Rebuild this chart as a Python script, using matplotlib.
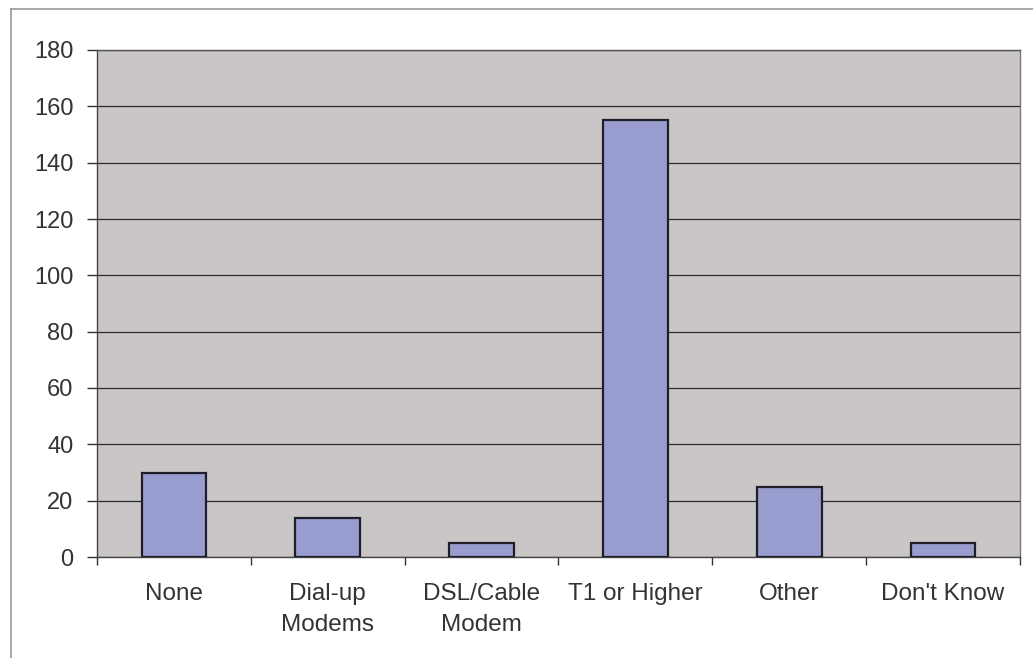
import matplotlib
matplotlib.use("Agg")
import matplotlib.pyplot as plt
from matplotlib.lines import Line2D

categories = ["None", "Dial-up\nModems", "DSL/Cable\nModem", "T1 or Higher", "Other", "Don't Know"]
counts = [30, 14, 5, 155, 25, 5]
y_ticks = [0, 20, 40, 60, 80, 100, 120, 140, 160, 180]

plt.rcParams["font.family"] = ["Liberation Sans", "DejaVu Sans"]

W, H = 1033, 658
fig = plt.figure(figsize=(W / 100, H / 100), dpi=100, facecolor="white")
ax = fig.add_axes([97 / W, 1 - 557 / H, (1020 - 97) / W, (557 - 50) / H])
ax.set_facecolor("#cbc6c6")

x = list(range(len(categories)))
ax.bar(x, counts, width=0.42, color="#989ccf", edgecolor="#1e1e28", linewidth=1.6, zorder=3)

ax.set_xlim(-0.5, len(categories) - 0.5)
ax.set_ylim(0, 180)
ax.set_yticks(y_ticks)
ax.set_yticklabels([str(v) for v in y_ticks], fontsize=17, color="#333333")
ax.yaxis.grid(True, color="#2a2a2a", linewidth=0.9, zorder=1)
ax.set_axisbelow(True)

# category labels centred under bars, ticks at the slot boundaries
ax.set_xticks(x)
ax.set_xticklabels(categories, fontsize=17.5, color="#333333", linespacing=1.5)
ax.tick_params(axis="x", which="major", length=0, pad=19)
ax.set_xticks([i - 0.5 for i in range(len(categories) + 1)], minor=True)
ax.tick_params(axis="x", which="minor", length=6, width=1, color="#333333", direction="out")
ax.tick_params(axis="y", length=7, width=1, color="#333333", direction="out", pad=10)

ax.spines["left"].set_color("#444444")
ax.spines["bottom"].set_color("#444444")
ax.spines["top"].set_color("#555555")
ax.spines["right"].set_color("#777777")
for s in ax.spines.values():
    s.set_linewidth(1.0)

# outer chart frame
fig.add_artist(Line2D([11 / W, 11 / W], [0, 1 - 9 / H], color="#9a9a9a", linewidth=1.2))
fig.add_artist(Line2D([11 / W, 1], [1 - 9 / H, 1 - 9 / H], color="#9a9a9a", linewidth=1.2))

fig.savefig("out.png", dpi=100, facecolor="white")
